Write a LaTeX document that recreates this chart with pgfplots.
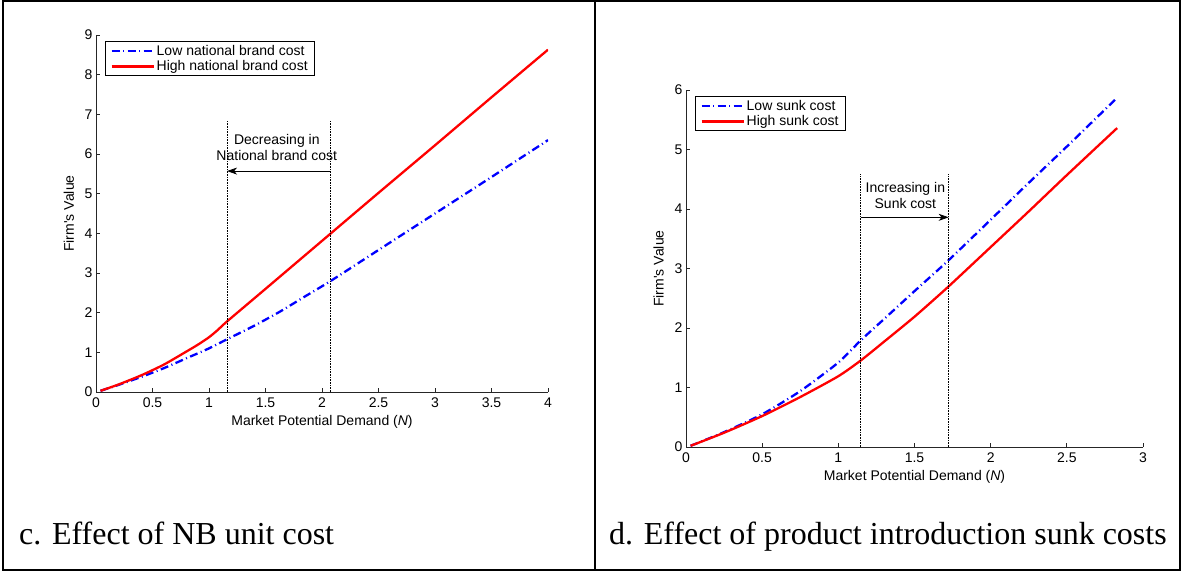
\documentclass[border=0pt]{standalone}
\usepackage{fontspec}
\setmainfont{Liberation Serif}
\newfontfamily\arial{Liberation Sans}
\usepackage{pgfplots}
\pgfplotsset{compat=1.18}
\usetikzlibrary{arrows.meta}

% matlab-like look for both panels
\pgfplotsset{
  matfig/.style={
    scale only axis, enlargelimits=false,
    axis x line*=bottom, axis y line*=left,
    axis line style={line width=0.7pt, black!85},
    tick align=inside, major tick length=4pt,
    tick style={line width=0.7pt, black!85},
    font=\arial\fontsize{14}{16}\selectfont,
    /pgf/number format/assume math mode=true,
    xticklabel style={yshift=-2.5pt},
    ylabel={Firm's Value},
    xlabel={Market Potential Demand ({\itshape N})},
    ylabel style={at={(axis description cs:-0.06,0.5)}, anchor=center},
    xlabel style={at={(axis description cs:0.5,-0.083)}, anchor=center},
    legend cell align=left,
    legend style={at={(0,1)}, anchor=north west, xshift=9pt, yshift=-6pt,
      draw=black, line width=0.8pt, inner xsep=5pt, inner ysep=1.5pt,
      nodes={inner sep=2pt}, row sep=0pt},
    legend image code/.code={\draw[#1] (0pt,0pt) -- (42pt,0pt);},
  },
  lowc/.style={blue, line width=2.3pt, smooth, tension=0.4,
    dash pattern=on 8pt off 3.5pt on 1pt off 3.5pt},
  highc/.style={red, line width=2.3pt, smooth, tension=0.4},
}

\begin{document}
\begin{tikzpicture}
\useasboundingbox (0pt,0pt) rectangle (1182pt,571pt);

% c. NB unit cost
\begin{axis}[matfig, at={(96pt,179pt)}, anchor=south west,
  width=452pt, height=357pt,
  xmin=0, xmax=4, ymin=0, ymax=9,
  xtick={0,0.5,1,1.5,2,2.5,3,3.5,4}, ytick={0,1,...,9}]
\addplot[lowc] coordinates {
  (0.04,0.03) (0.2,0.18) (0.4,0.38) (0.6,0.60) (0.8,0.85) (1.0,1.10)
  (1.16,1.33) (1.4,1.67) (1.63,2.03) (1.85,2.41) (2.077,2.80) (2.5,3.58)
  (3.0,4.50) (3.5,5.42) (4.0,6.35)};
\addlegendentry{Low national brand cost}
\addplot[highc] coordinates {
  (0.04,0.03) (0.2,0.19) (0.4,0.42) (0.6,0.69) (0.8,1.02) (0.9,1.19)
  (1.0,1.38) (1.08,1.57) (1.16,1.78) (1.5,2.60) (2.0,3.81) (2.5,5.02)
  (3.0,6.22) (3.5,7.43) (4.0,8.63)};
\addlegendentry{High national brand cost}
\draw[densely dotted, line width=0.6pt] (axis cs:1.16,0) -- (axis cs:1.16,6.83);
\draw[densely dotted, line width=0.6pt] (axis cs:2.077,0) -- (axis cs:2.077,6.83);
\draw[line width=0.7pt, -{Stealth[length=10pt,width=7pt,inset=3pt]}]
  (axis cs:2.077,5.57) -- (axis cs:1.16,5.57);
\node[align=center, inner sep=0pt] at (axis cs:1.6,6.17) {Decreasing in\\National brand cost};
\end{axis}

% d. sunk costs
\begin{axis}[matfig, at={(686pt,124pt)}, anchor=south west,
  width=457pt, height=357pt,
  xmin=0, xmax=3, ymin=0, ymax=6,
  xtick={0,0.5,1,1.5,2,2.5,3}, ytick={0,1,...,6}]
\addplot[lowc] coordinates {
  (0.03,0.02) (0.25,0.25) (0.5,0.55) (0.75,0.94) (1.0,1.42) (1.15,1.80)
  (1.3,2.15) (1.5,2.62) (1.72,3.13) (2.0,3.82) (2.25,4.44) (2.5,5.05) (2.83,5.87)};
\addlegendentry{Low sunk cost}
\addplot[highc] coordinates {
  (0.03,0.02) (0.25,0.24) (0.5,0.52) (0.75,0.84) (1.0,1.19) (1.15,1.46)
  (1.3,1.77) (1.5,2.19) (1.72,2.69) (2.0,3.36) (2.25,3.96) (2.5,4.57) (2.83,5.36)};
\addlegendentry{High sunk cost}
\draw[densely dotted, line width=0.6pt] (axis cs:1.146,0) -- (axis cs:1.146,4.58);
\draw[densely dotted, line width=0.6pt] (axis cs:1.724,0) -- (axis cs:1.724,4.58);
\draw[line width=0.7pt, -{Stealth[length=10pt,width=7pt,inset=3pt]}]
  (axis cs:1.146,3.86) -- (axis cs:1.724,3.86);
\node[align=center, inner sep=0pt] at (axis cs:1.44,4.22) {Increasing in\\Sunk cost};
\end{axis}

% table frame and captions
\draw[line width=2pt] (2.5pt,1.5pt) rectangle (1180pt,569.5pt);
\draw[line width=2pt] (595pt,1.5pt) -- (595pt,569.5pt);
\node[anchor=base west, inner sep=0pt, font=\fontsize{32}{36}\selectfont] at (19pt,27pt) {c. Effect of NB unit cost};
\node[anchor=base west, inner sep=0pt, font=\fontsize{32}{36}\selectfont] at (609pt,27pt) {d. Effect of product introduction sunk costs};
\end{tikzpicture}
\end{document}
